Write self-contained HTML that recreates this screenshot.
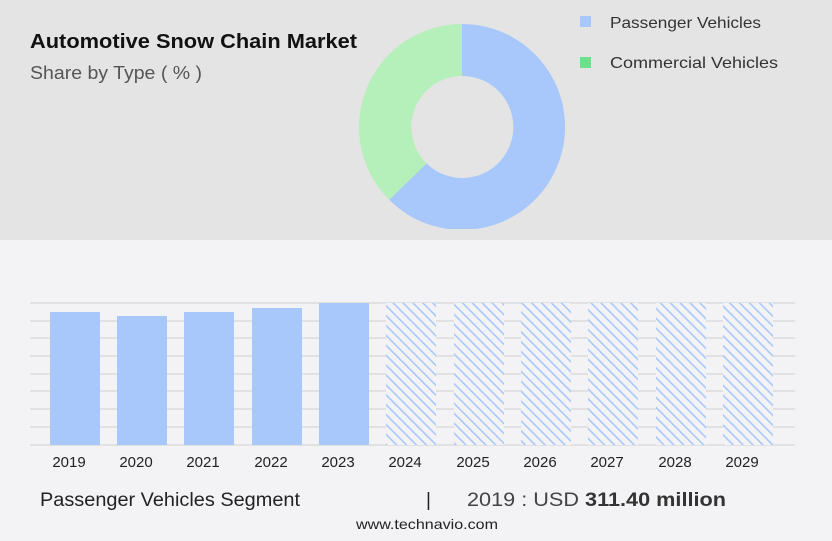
<!DOCTYPE html>
<html><head><style>
body{margin:0;width:832px;height:536px;overflow:hidden;background:#f3f3f5;font-family:"Liberation Sans",sans-serif;}
</style></head><body>
<svg width="832" height="536" xmlns="http://www.w3.org/2000/svg">
<defs>
<pattern id="h" patternUnits="userSpaceOnUse" width="7" height="7" patternTransform="rotate(-45)">
<rect width="7" height="7" fill="#f3f3f5"/><rect width="1.6" height="7" fill="#a8c8fb"/>
</pattern>
</defs>
<rect x="0" y="0" width="832" height="240" fill="#e4e4e4"/>
<text x="30" y="48" font-size="20" font-weight="bold" fill="#111" textLength="327" lengthAdjust="spacingAndGlyphs">Automotive Snow Chain Market</text>
<text x="30" y="79" font-size="18" fill="#555" textLength="172" lengthAdjust="spacingAndGlyphs">Share by Type ( % )</text>
<path d="M462,24 A103,103 0 1,1 389.2,199.8 L426.6,163.4 A51,51 0 1,0 462,76 Z" fill="#a8c8fb"/>
<path d="M389.2,199.8 A103,103 0 0,1 462,24 L462,76 A51,51 0 0,0 426.6,163.4 Z" fill="#b5efb9"/>
<rect x="0" y="229" width="832" height="11" fill="#e4e4e4"/>
<rect x="580" y="16" width="11" height="11" fill="#a8c8fb"/>
<rect x="580" y="57" width="11" height="11" fill="#6ee08c"/>
<text x="610" y="28" font-size="16" fill="#333" textLength="151" lengthAdjust="spacingAndGlyphs">Passenger Vehicles</text>
<text x="610" y="68" font-size="16" fill="#333" textLength="168" lengthAdjust="spacingAndGlyphs">Commercial Vehicles</text>
<g stroke="#cfcfcf" stroke-width="1">
<line x1="30" x2="795" y1="303" y2="303"/><line x1="30" x2="795" y1="321" y2="321"/>
<line x1="30" x2="795" y1="338" y2="338"/><line x1="30" x2="795" y1="356" y2="356"/>
<line x1="30" x2="795" y1="374" y2="374"/><line x1="30" x2="795" y1="391" y2="391"/>
<line x1="30" x2="795" y1="409" y2="409"/><line x1="30" x2="795" y1="427" y2="427"/>
<line x1="30" x2="795" y1="445" y2="445"/>
</g>
<g fill="#a8c8fb">
<rect x="50" y="312" width="50" height="133"/>
<rect x="117" y="316" width="50" height="129"/>
<rect x="184" y="312" width="50" height="133"/>
<rect x="252" y="308" width="50" height="137"/>
<rect x="319" y="303" width="50" height="142"/>
</g>
<g fill="url(#h)">
<rect x="386" y="303" width="50" height="142"/><rect x="454" y="303" width="50" height="142"/>
<rect x="521" y="303" width="50" height="142"/><rect x="588" y="303" width="50" height="142"/>
<rect x="656" y="303" width="50" height="142"/><rect x="723" y="303" width="50" height="142"/>
</g>
<g font-size="15" fill="#222" text-anchor="middle">
<text x="69" y="467">2019</text><text x="136" y="467">2020</text><text x="203" y="467">2021</text>
<text x="271" y="467">2022</text><text x="338" y="467">2023</text><text x="405" y="467">2024</text>
<text x="473" y="467">2025</text><text x="540" y="467">2026</text><text x="607" y="467">2027</text>
<text x="675" y="467">2028</text><text x="742" y="467">2029</text>
</g>
<text x="40" y="506" font-size="19" fill="#222" textLength="260" lengthAdjust="spacingAndGlyphs">Passenger Vehicles Segment</text>
<text x="426" y="506" font-size="19" fill="#222">|</text>
<text x="467" y="506" font-size="19" fill="#444" textLength="259" lengthAdjust="spacingAndGlyphs">2019 : USD <tspan font-weight="bold" fill="#333">311.40 million</tspan></text>
<text x="427" y="529" font-size="14" fill="#222" text-anchor="middle" textLength="142" lengthAdjust="spacingAndGlyphs">www.technavio.com</text>
</svg>
</body></html>
